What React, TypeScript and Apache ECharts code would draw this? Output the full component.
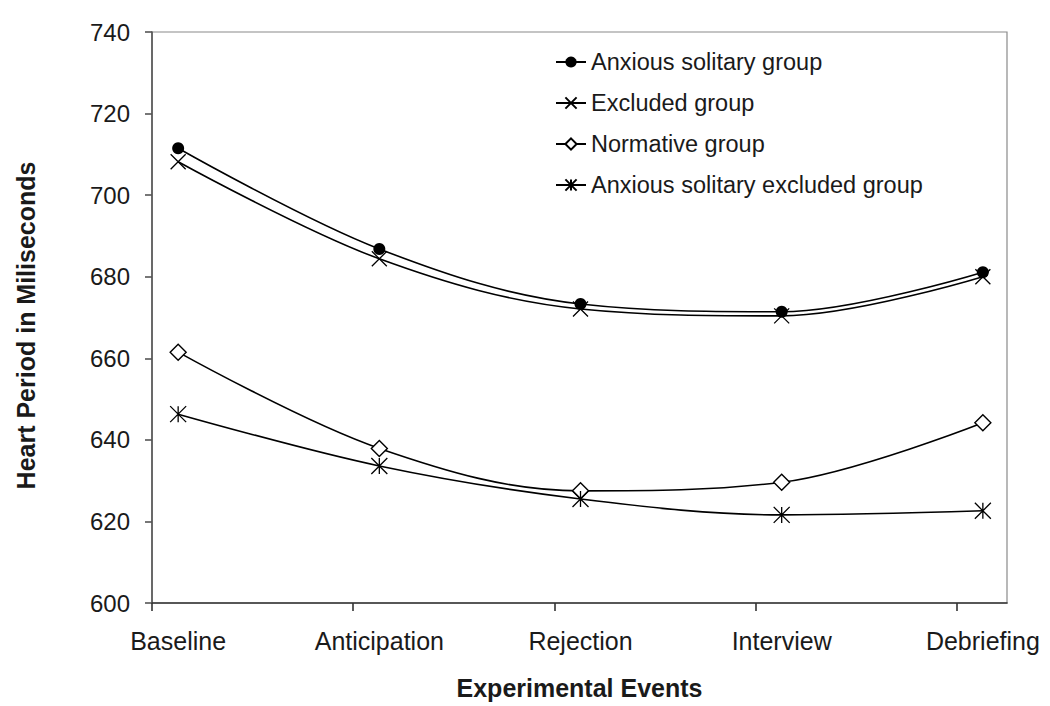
import React, { useEffect, useRef } from "react";
import * as echarts from "echarts";

const categories = ["Baseline", "Anticipation", "Rejection", "Interview", "Debriefing"];
const anxiousSolitary = [711.5, 686.8, 673.3, 671.4, 681.1];
const excluded = [708.2, 684.4, 672.1, 670.4, 680.0];
const normative = [661.5, 637.9, 627.5, 629.6, 644.2];
const anxiousSolitaryExcluded = [646.3, 633.6, 625.5, 621.6, 622.6];
const yTicks = [600, 620, 640, 660, 680, 700, 720, 740];

const CAT_OFFSET = 0.13;
const FONT = 'Arial, "Liberation Sans", Helvetica, sans-serif';

const X_PATH = "path://M0,0L10,10M10,0L0,10";
const STAR_PATH = "path://M0,0L10,10M10,0L0,10M5,0L5,10";

function toPoints(vals: number[]) {
  return vals.map((v, i) => [i + CAT_OFFSET, v]);
}

export default function App() {
  const ref = useRef<HTMLDivElement>(null);
  useEffect(() => {
    if (!ref.current) return;
    const chart = echarts.init(ref.current, null, { renderer: "svg" });
    const lineStyle = { color: "#000", width: 1.6 };
    const smooth = 0.35;
    chart.setOption({
      animation: false,
      backgroundColor: "#fff",
      textStyle: { fontFamily: FONT },
      grid: {
        left: 152,
        right: 43,
        top: 32,
        bottom: 103,
        show: true,
        borderColor: "#8a8a8a",
        borderWidth: 1.2,
        containLabel: false,
      },
      legend: {
        orient: "vertical",
        left: 550,
        top: 45,
        itemWidth: 30,
        itemHeight: 14,
        itemGap: 17,
        textStyle: { fontFamily: FONT, fontSize: 23.5, color: "#1a1a1a" },
        data: [
          "Anxious solitary group",
          "Excluded group",
          "Normative group",
          "Anxious solitary excluded group",
        ],
      },
      xAxis: {
        type: "value",
        min: 0,
        max: 4.25,
        interval: 1,
        name: "Experimental Events",
        nameLocation: "middle",
        nameGap: 72,
        nameTextStyle: { fontFamily: FONT, fontSize: 25, fontWeight: "bold", color: "#1a1a1a" },
        splitLine: { show: false },
        axisLine: { show: true, lineStyle: { color: "#333", width: 1.6 } },
        axisTick: {
          show: true,
          inside: false,
          length: 8,
          customValues: [0, 1, 2, 3, 4],
          lineStyle: { color: "#333", width: 1.6 },
        },
        axisLabel: {
          show: true,
          customValues: categories.map((_, i) => i + CAT_OFFSET),
          formatter: (v: number) => categories[Math.round(v - CAT_OFFSET)] ?? "",
          fontFamily: FONT,
          fontSize: 25,
          color: "#1a1a1a",
          margin: 25,
        },
      },
      yAxis: {
        type: "value",
        min: yTicks[0],
        max: yTicks[yTicks.length - 1],
        interval: 20,
        name: "Heart Period in Miliseconds",
        nameLocation: "middle",
        nameGap: 114,
        nameTextStyle: {
          fontFamily: FONT,
          fontSize: 25,
          fontWeight: "bold",
          color: "#1a1a1a",
          padding: [0, 16, 0, 0],
        },
        splitLine: { show: false },
        axisLine: { show: true, lineStyle: { color: "#555", width: 1.6 } },
        axisTick: { show: true, inside: false, length: 7, lineStyle: { color: "#555", width: 1.6 } },
        axisLabel: { fontFamily: FONT, fontSize: 24, color: "#1a1a1a", margin: 22 },
      },
      series: [
        {
          name: "Anxious solitary group",
          type: "line",
          smooth,
          data: toPoints(anxiousSolitary),
          symbol: "circle",
          symbolSize: 12,
          lineStyle,
          itemStyle: { color: "#000", borderColor: "#000", borderWidth: 0 },
        },
        {
          name: "Excluded group",
          type: "line",
          smooth,
          data: toPoints(excluded),
          symbol: X_PATH,
          symbolSize: 15,
          lineStyle,
          itemStyle: { color: "#000", borderColor: "#000", borderWidth: 1.3 },
        },
        {
          name: "Normative group",
          type: "line",
          smooth,
          data: toPoints(normative),
          symbol: "diamond",
          symbolSize: 16,
          lineStyle,
          itemStyle: { color: "#fff", borderColor: "#000", borderWidth: 1.4 },
        },
        {
          name: "Anxious solitary excluded group",
          type: "line",
          smooth,
          data: toPoints(anxiousSolitaryExcluded),
          symbol: STAR_PATH,
          symbolSize: 16,
          lineStyle,
          itemStyle: { color: "#000", borderColor: "#000", borderWidth: 1.3 },
        },
      ],
    });
    return () => chart.dispose();
  }, []);
  return <div ref={ref} style={{ width: 1050, height: 706, position: "absolute", left: 0, top: 0 }} />;
}
